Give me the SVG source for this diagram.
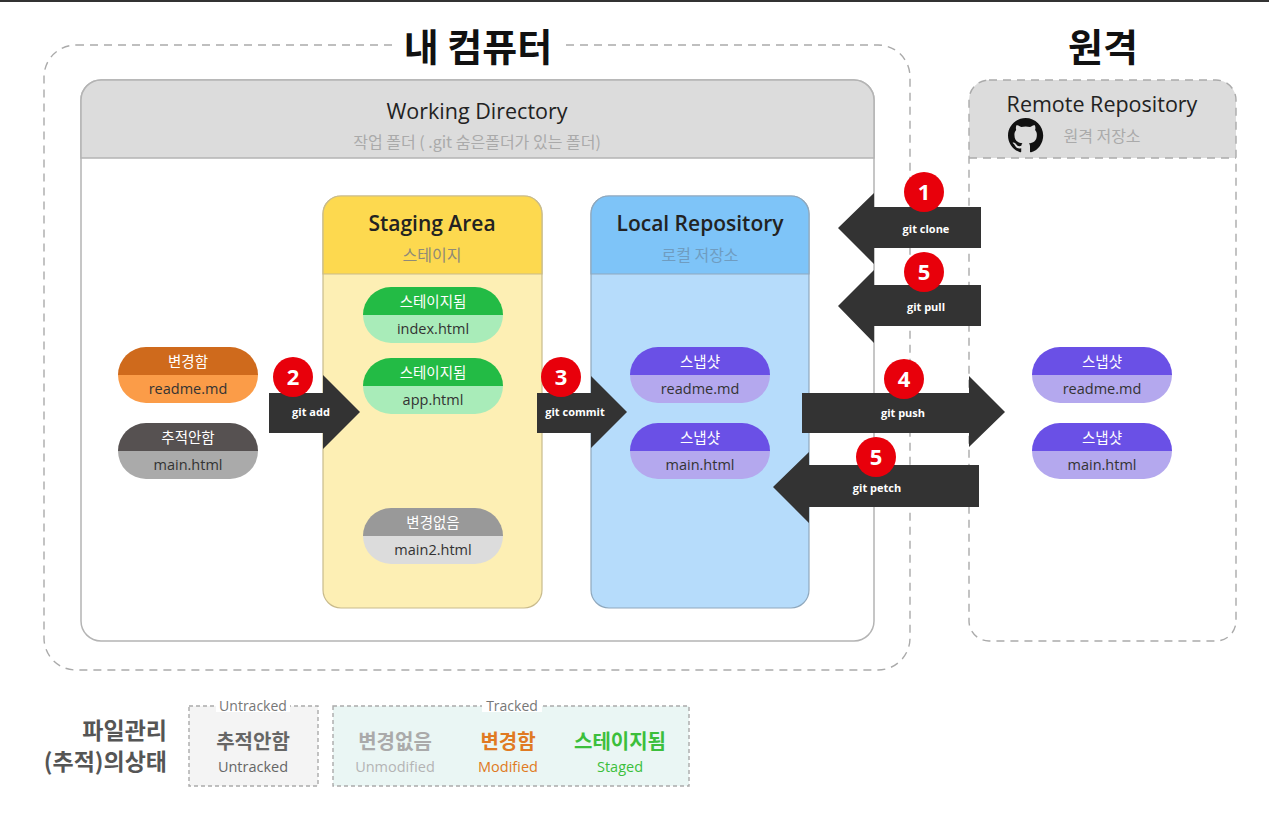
<svg xmlns="http://www.w3.org/2000/svg" width="1269" height="814" viewBox="0 0 1269 814">
<style>
text{font-family:"Open Sans","Noto Sans CJK KR","Noto Sans",sans-serif}
.ttl{font-family:"Noto Sans CJK KR",sans-serif;font-size:38px;font-weight:700;fill:#111;text-anchor:middle}
.h{font-size:21.5px;fill:#222;text-anchor:middle}
.hb{font-size:21px;fill:#222;text-anchor:middle;font-weight:600}
.sub{font-family:"Noto Sans CJK KR",sans-serif;font-size:16px;fill:#aaa;text-anchor:middle}
.pt{font-family:"Noto Sans CJK KR",sans-serif;font-size:14.5px;fill:#fff;text-anchor:middle}
.pb{font-size:14.5px;fill:#333;text-anchor:middle}
.al{font-size:11px;font-weight:700;fill:#fff;text-anchor:middle}
.num{font-size:22px;font-weight:700;fill:#fff;text-anchor:middle}
.dash{fill:none;stroke:#aaa;stroke-width:1.4;stroke-dasharray:8 6}
.arrow{fill:#333}
.badge{fill:#e8000b}
.lg{font-family:"Noto Sans CJK KR",sans-serif;font-size:20px;font-weight:700;text-anchor:middle}
.le{font-size:14.5px;text-anchor:middle}
.lt{font-family:"Noto Sans CJK KR",sans-serif;font-size:23px;font-weight:700;fill:#555;text-anchor:end}
</style>
<defs>
<path id="pTop" d="M0,28 A28,28 0 0 1 28,0 H112 A28,28 0 0 1 140,28 Z"/>
<path id="pBot" d="M0,28 H140 A28,28 0 0 1 112,56 H28 A28,28 0 0 1 0,28 Z"/>
</defs>
<rect x="0" y="0" width="1269" height="814" fill="#fff"/>
<rect x="0" y="0" width="1269" height="2" fill="#333"/>

<g id="my-computer">
<rect x="44" y="45" width="866" height="625" rx="32" class="dash"/>
<rect x="396" y="30" width="164" height="36" fill="#fff"/>
<text x="478" y="61" class="ttl">내 컴퓨터</text>
</g>

<g id="working-directory">
<rect x="81" y="80" width="793" height="561" rx="20" fill="#fff" stroke="#b4b4b4" stroke-width="1.5"/>
<path d="M81,158 V100 A20,20 0 0 1 101,80 H854 A20,20 0 0 1 874,100 V158 Z" fill="#dcdcdc" stroke="#b4b4b4" stroke-width="1.5"/>
<text x="477" y="119" class="h">Working Directory</text>
<text x="477" y="148" class="sub">작업 폴더 ( .git 숨은폴더가 있는 폴더)</text>
</g>

<g id="remote">
<text x="1103" y="61" class="ttl">원격</text>
<path d="M969,158 V100 A20,20 0 0 1 989,80 H1216 A20,20 0 0 1 1236,100 V158 Z" fill="#dcdcdc"/>
<rect x="969" y="80" width="267" height="561" rx="20" class="dash"/>
<line x1="969" y1="158" x2="1236" y2="158" class="dash"/>
<text x="1102" y="112" class="h">Remote Repository</text>
<path transform="translate(1008,118) scale(2.2)" fill="#111" d="M8 0C3.58 0 0 3.580 0 8c0 3.54 2.29 6.53 5.470 7.59.4.07.55-.17.55-.38 0-.19-.01-.82-.01-1.49-2.01.37-2.530-.49-2.69-.94-.09-.23-.48-.94-.82-1.13-.28-.15-.68-.52-.01-.53.63-.01 1.08.58 1.23.82.72 1.21 1.87.87 2.330.66.07-.52.28-.87.51-1.07-1.78-.2-3.64-.89-3.64-3.95 0-.87.31-1.59.82-2.15-.08-.2-.36-1.02.08-2.12 0 0 .67-.21 2.2.82.64-.18 1.32-.27 2-.27.68 0 1.36.09 2 .27 1.53-1.04 2.2-.82 2.2-.82.44 1.1.16 1.92.08 2.12.51.56.82 1.27.82 2.15 0 3.07-1.87 3.750-3.65 3.95.29.25.54.73.54 1.48 0 1.07-.01 1.930-.01 2.2 0 .21.15.46.55.38A8.013 8.013 0 0016 8c0-4.42-3.58-8-8-8z"/>
<text x="1102" y="142" class="sub">원격 저장소</text>
</g>

<g id="staging-area">
<rect x="323" y="196" width="219" height="412" rx="18" fill="#fdefb4" stroke="#c9bb8c" stroke-width="1.2"/>
<path d="M323,274 V214 A18,18 0 0 1 341,196 H524 A18,18 0 0 1 542,214 V274 Z" fill="#fdd94f" stroke="#c9bb8c" stroke-width="1.2"/>
<text x="432" y="231" class="hb">Staging Area</text>
<text x="432" y="261" class="sub" style="fill:#8f8a78">스테이지</text>
</g>

<g id="local-repository">
<rect x="591" y="196" width="218" height="412" rx="18" fill="#b6dcfb" stroke="#8fa8bd" stroke-width="1.2"/>
<path d="M591,274 V214 A18,18 0 0 1 609,196 H791 A18,18 0 0 1 809,214 V274 Z" fill="#7ec4f8" stroke="#8fa8bd" stroke-width="1.2"/>
<text x="700" y="231" class="hb">Local Repository</text>
<text x="700" y="261" class="sub" style="fill:#6f9cc0">로컬 저장소</text>
</g>

<g id="pill-readme-modified" transform="translate(118,347)">
<use href="#pTop" fill="#cf6a1c"/><use href="#pBot" fill="#fb9c48"/>
<text x="70" y="20" class="pt">변경함</text><text x="70" y="47" class="pb">readme.md</text>
</g>
<g id="pill-main-untracked" transform="translate(118,423)">
<use href="#pTop" fill="#565151"/><use href="#pBot" fill="#aaaaaa"/>
<text x="70" y="20" class="pt">추적안함</text><text x="70" y="47" class="pb">main.html</text>
</g>
<g id="pill-index-staged" transform="translate(363,287)">
<use href="#pTop" fill="#23bb45"/><use href="#pBot" fill="#a9ecb9"/>
<text x="70" y="20" class="pt">스테이지됨</text><text x="70" y="47" class="pb">index.html</text>
</g>
<g id="pill-app-staged" transform="translate(363,358)">
<use href="#pTop" fill="#23bb45"/><use href="#pBot" fill="#a9ecb9"/>
<text x="70" y="20" class="pt">스테이지됨</text><text x="70" y="47" class="pb">app.html</text>
</g>
<g id="pill-main2-unmodified" transform="translate(363,508)">
<use href="#pTop" fill="#999999"/><use href="#pBot" fill="#dcdcdc"/>
<text x="70" y="20" class="pt">변경없음</text><text x="70" y="47" class="pb">main2.html</text>
</g>
<g id="pill-local-readme" transform="translate(630,347)">
<use href="#pTop" fill="#6a50e6"/><use href="#pBot" fill="#b4a8ee"/>
<text x="70" y="20" class="pt">스냅샷</text><text x="70" y="47" class="pb">readme.md</text>
</g>
<g id="pill-local-main" transform="translate(630,423)">
<use href="#pTop" fill="#6a50e6"/><use href="#pBot" fill="#b4a8ee"/>
<text x="70" y="20" class="pt">스냅샷</text><text x="70" y="47" class="pb">main.html</text>
</g>
<g id="pill-remote-readme" transform="translate(1032,347)">
<use href="#pTop" fill="#6a50e6"/><use href="#pBot" fill="#b4a8ee"/>
<text x="70" y="20" class="pt">스냅샷</text><text x="70" y="47" class="pb">readme.md</text>
</g>
<g id="pill-remote-main" transform="translate(1032,423)">
<use href="#pTop" fill="#6a50e6"/><use href="#pBot" fill="#b4a8ee"/>
<text x="70" y="20" class="pt">스냅샷</text><text x="70" y="47" class="pb">main.html</text>
</g>

<g id="connectors">
<g id="git-add">
<polygon class="arrow" points="269,393 323,393 323,375 360,412 323,449 323,433 269,433"/>
<text x="311" y="416" class="al">git add</text>
<circle cx="293" cy="377" r="20" class="badge"/><text x="293" y="385" class="num">2</text>
</g>
<g id="git-commit">
<polygon class="arrow" points="537,393 591,393 591,376 627,412 591,448 591,433 537,433"/>
<text x="575" y="416" class="al">git commit</text>
<circle cx="561" cy="377" r="20" class="badge"/><text x="561" y="385" class="num">3</text>
</g>
<g id="git-clone">
<polygon class="arrow" points="981,207 874,207 874,193 838,228 874,264 874,248 981,248"/>
<text x="926" y="233" class="al">git clone</text>
<circle cx="924" cy="192" r="20" class="badge"/><text x="924" y="200" class="num">1</text>
</g>
<g id="git-pull">
<polygon class="arrow" points="981,285 874,285 874,270 838,306 874,343 874,326 981,326"/>
<text x="926" y="311" class="al">git pull</text>
<circle cx="924" cy="272" r="20" class="badge"/><text x="924" y="280" class="num">5</text>
</g>
<g id="git-push">
<polygon class="arrow" points="802,393 969,393 969,376 1005,412 969,447 969,433 802,433"/>
<text x="903" y="417" class="al">git push</text>
<circle cx="904" cy="379" r="20" class="badge"/><text x="904" y="387" class="num">4</text>
</g>
<g id="git-petch">
<polygon class="arrow" points="979,465 809,465 809,452 773,487 809,523 809,507 979,507"/>
<text x="877" y="492" class="al">git petch</text>
<circle cx="876" cy="457" r="20" class="badge"/><text x="876" y="465" class="num">5</text>
</g>
</g>

<g id="legend">
<text x="167" y="739" class="lt">파일관리</text>
<text x="167" y="770" class="lt">(추적)의상태</text>
<g id="legend-untracked">
<rect x="189" y="706" width="129" height="80" class="dash" style="fill:#f4f4f4;stroke-dasharray:4 3"/>
<rect x="216" y="700" width="74" height="12" fill="#fff"/>
<text x="253" y="711" class="le" style="font-size:14px;fill:#777">Untracked</text>
<text x="253" y="749" class="lg" fill="#666">추적안함</text>
<text x="253" y="772" class="le" fill="#666">Untracked</text>
</g>
<g id="legend-tracked">
<rect x="333" y="706" width="356" height="80" class="dash" style="fill:#eaf6f4;stroke-dasharray:4 3"/>
<rect x="482" y="700" width="60" height="12" fill="#fff"/>
<text x="512" y="711" class="le" style="font-size:14px;fill:#777">Tracked</text>
<text x="395" y="749" class="lg" fill="#aaa">변경없음</text>
<text x="395" y="772" class="le" fill="#b4b4b4">Unmodified</text>
<text x="508" y="749" class="lg" fill="#e07a22">변경함</text>
<text x="508" y="772" class="le" fill="#e07a22">Modified</text>
<text x="620" y="749" class="lg" fill="#3cbf3c">스테이지됨</text>
<text x="620" y="772" class="le" fill="#3cbf3c">Staged</text>
</g>
</g>
</svg>
